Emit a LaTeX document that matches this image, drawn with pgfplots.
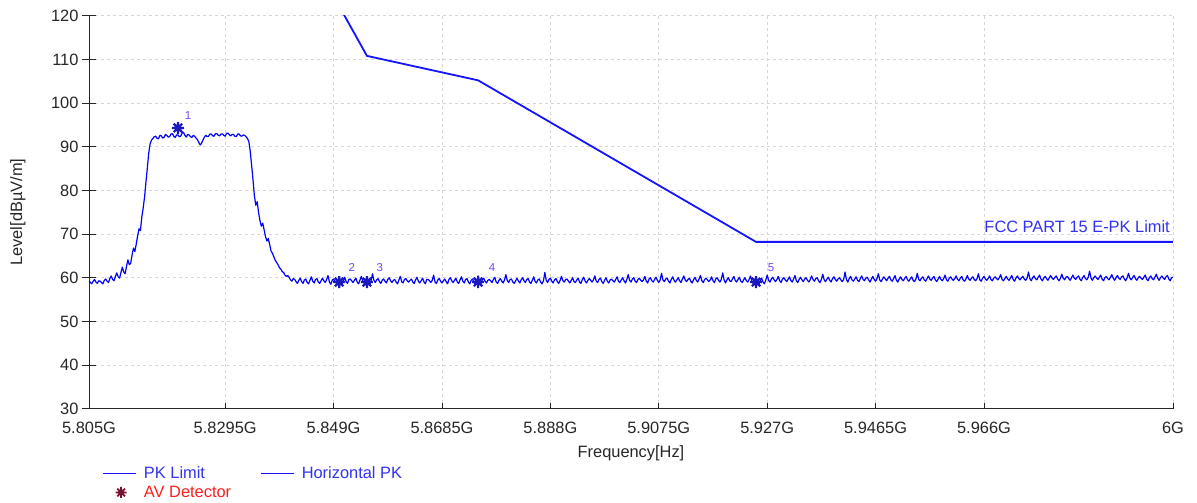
\documentclass[border=0pt]{standalone}
\usepackage{pgfplots}
\pgfplotsset{compat=1.18}
\usepackage{fontspec}
\setmainfont{Liberation Sans}
\definecolor{tr}{RGB}{0,0,255}
\definecolor{lim}{RGB}{20,20,255}
\definecolor{mk}{RGB}{25,25,190}
\definecolor{avred}{RGB}{120,20,50}
\definecolor{lblue}{RGB}{50,50,240}
\definecolor{lred}{RGB}{255,30,30}
\definecolor{mlab}{RGB}{120,70,255}
\definecolor{gridc}{RGB}{215,215,215}
\newcommand\fs{\fontsize{16.4bp}{19bp}\selectfont}
\pgfdeclareplotmark{burst}{%
  \pgfpathmoveto{\pgfqpoint{-\pgfplotmarksize}{0pt}}\pgfpathlineto{\pgfqpoint{\pgfplotmarksize}{0pt}}%
  \pgfpathmoveto{\pgfqpoint{0pt}{-\pgfplotmarksize}}\pgfpathlineto{\pgfqpoint{0pt}{\pgfplotmarksize}}%
  \pgfpathmoveto{\pgfqpointpolar{45}{\pgfplotmarksize}}\pgfpathlineto{\pgfqpointpolar{225}{\pgfplotmarksize}}%
  \pgfpathmoveto{\pgfqpointpolar{135}{\pgfplotmarksize}}\pgfpathlineto{\pgfqpointpolar{315}{\pgfplotmarksize}}%
  \pgfusepathqstroke
  \pgfpathcircle{\pgfpointorigin}{0.4\pgfplotmarksize}\pgfusepathqfillstroke}
\pgfplotsset{
  linelegend/.style={legend image code/.code={\draw[##1] (0bp,0bp) -- (33bp,0bp);}},
  marklegend/.style={legend image code/.code={\path (0bp,0bp) (33bp,0bp); \draw[##1] plot coordinates {(18bp,0bp)};}},
}
\begin{document}
\begin{tikzpicture}
\begin{axis}[
  at={(0,0)}, anchor=south west,
  scale only axis, width=1084bp, height=393bp,
  xmin=5805, xmax=6000, ymin=30, ymax=120,
  axis x line*=bottom, axis y line*=left,
  axis line style={black!85, line width=0.9bp},
  xtick={5805,5829.5,5849,5868.5,5888,5907.5,5927,5946.5,5966,6000},
  xticklabels={5.805G,5.8295G,5.849G,5.8685G,5.888G,5.9075G,5.927G,5.9465G,5.966G,6G},
  ytick={30,40,...,120},
  xtick align=inside, ytick align=center,
  major tick length=14bp,
  xtick style={/pgfplots/major tick length=6bp},
  tick style={black!85, line width=0.9bp},
  tick label style={font=\fs, text=black!85},
  xticklabel style={yshift=-10bp},
  /pgf/number format/assume math mode=true,
  grid=major,
  major grid style={gridc, dash pattern=on 3bp off 3bp, line width=0.8bp},
  xlabel={Frequency[Hz]},
  xlabel style={at={(axis description cs:0.5,-0.1135)}, anchor=center, font=\fs, text=black!85},
  ylabel={Level[dBµV/m]},
  ylabel style={at={(axis description cs:-0.0655,0.5)}, anchor=center, font=\fs, text=black!85},
  legend columns=2,
  legend style={at={(axis description cs:0.012,-0.142)}, anchor=north west, draw=none, fill=none,
    font=\fs, inner sep=0pt, row sep=2bp,
    /tikz/every odd column/.append style={column sep=5bp},
    /tikz/every even column/.append style={column sep=27bp}},
  legend cell align=left,
]
\addplot[tr, line width=1.2bp, line join=round, forget plot] coordinates {
(5805,59.3)(5805.25,58.9)(5805.5,58.6)(5805.75,59.2)(5806,59.6)(5806.25,59.0)(5806.5,58.7)(5806.75,59.3)
(5807,59.2)(5807.25,58.9)(5807.5,58.6)(5807.75,59.4)(5808,59.7)(5808.25,59.2)(5808.5,58.9)(5808.75,59.8)
(5809,60.4)(5809.25,59.6)(5809.5,59.3)(5809.75,60.3)(5810,61.1)(5810.25,60.2)(5810.5,59.9)(5810.75,61.2)
(5811,62.4)(5811.25,61.3)(5811.5,60.9)(5811.75,62.6)(5812,64.1)(5812.25,63.0)(5812.5,63.3)(5812.75,65.2)
(5813,66.8)(5813.25,66.0)(5813.5,67.7)(5813.75,69.6)(5814,71.2)(5814.25,70.8)(5814.5,73.9)(5814.75,76.0)
(5815,78.5)(5815.25,82.0)(5815.5,85.2)(5815.75,88.6)(5816,90.7)(5816.25,91.5)(5816.5,91.9)(5816.75,92.3)
(5817,92.4)(5817.25,91.9)(5817.5,91.8)(5817.75,92.6)(5818,92.5)(5818.25,92.0)(5818.5,92.1)(5818.75,92.8)
(5819,92.6)(5819.25,92.2)(5819.5,92.3)(5819.75,92.9)(5820,93.0)(5820.25,92.4)(5820.5,92.1)(5820.75,92.7)
(5821,92.7)(5821.25,92.3)(5821.5,92.4)(5821.75,93.1)(5822,93.3)(5822.25,92.6)(5822.5,92.2)(5822.75,92.8)
(5823,92.7)(5823.25,92.3)(5823.5,92.1)(5823.75,92.6)(5824,92.4)(5824.25,92.0)(5824.5,91.6)(5824.75,91.0)
(5825,90.4)(5825.25,90.8)(5825.5,91.5)(5825.75,92.2)(5826,92.6)(5826.25,92.3)(5826.5,92.4)(5826.75,92.9)
(5827,92.9)(5827.25,92.5)(5827.5,92.4)(5827.75,93.0)(5828,93.0)(5828.25,92.6)(5828.5,92.5)(5828.75,92.9)
(5829,92.9)(5829.25,92.6)(5829.5,92.4)(5829.75,93.1)(5830,93.1)(5830.25,92.7)(5830.5,92.5)(5830.75,92.8)
(5831,92.8)(5831.25,92.4)(5831.5,92.3)(5831.75,92.9)(5832,92.9)(5832.25,92.5)(5832.5,92.4)(5832.75,92.7)
(5833,92.6)(5833.25,92.3)(5833.5,91.9)(5833.75,91.2)(5834,89.0)(5834.25,85.8)(5834.5,82.5)(5834.75,78.8)
(5835,76.6)(5835.25,77.4)(5835.5,75.0)(5835.75,73.1)(5836,71.8)(5836.25,72.5)(5836.5,71.0)(5836.75,69.4)
(5837,68.4)(5837.25,69.0)(5837.5,67.6)(5837.75,66.1)(5838,65.6)(5838.25,64.8)(5838.5,64.0)(5838.75,63.5)
(5839,63.0)(5839.25,62.3)(5839.5,62.0)(5839.75,61.4)(5840,61.2)(5840.25,60.6)(5840.5,60.3)(5840.75,60.5)
(5841,60.1)(5841.25,59.5)(5841.5,59.2)(5841.75,59.8)(5842,59.6)(5842.25,59.1)(5842.5,58.7)(5842.75,59.4)
(5843,59.9)(5843.25,59.1)(5843.5,58.7)(5843.75,59.5)(5844,59.7)(5844.25,58.9)(5844.5,58.6)(5844.75,59.4)
(5845,60.2)(5845.25,59.2)(5845.5,58.8)(5845.75,59.6)(5846,59.8)(5846.25,59.0)(5846.5,58.7)(5846.75,59.3)
(5847,59.9)(5847.25,59.3)(5847.5,58.9)(5847.75,59.6)(5848,60.5)(5848.25,59.0)(5848.5,58.5)(5848.75,59.4)
(5849,59.7)(5849.25,59.2)(5849.5,58.8)(5849.75,59.5)(5850,59.8)(5850.25,58.8)(5850.5,58.4)(5850.75,59.2)
(5851,60.1)(5851.25,59.1)(5851.5,58.7)(5851.75,59.6)(5852,59.7)(5852.25,59.3)(5852.5,58.9)(5852.75,59.4)
(5853,59.9)(5853.25,59.0)(5853.5,58.6)(5853.75,59.5)(5854,60.3)(5854.25,59.2)(5854.5,58.8)(5854.75,59.7)
(5855,59.6)(5855.25,58.9)(5855.5,58.5)(5855.75,59.3)(5856,60.9)(5856.25,59.4)(5856.5,58.9)(5856.75,59.5)
(5857,59.8)(5857.25,59.1)(5857.5,58.7)(5857.75,59.4)(5858,59.7)(5858.25,59.2)(5858.5,58.8)(5858.75,59.6)
(5859,60.0)(5859.25,59.3)(5859.5,58.9)(5859.75,59.4)(5860,59.6)(5860.25,59.0)(5860.5,58.6)(5860.75,59.5)
(5861,60.3)(5861.25,59.1)(5861.5,58.8)(5861.75,59.6)(5862,59.8)(5862.25,59.3)(5862.5,59.0)(5862.75,59.4)
(5863,59.7)(5863.25,59.0)(5863.5,58.7)(5863.75,59.5)(5864,60.1)(5864.25,59.2)(5864.5,58.8)(5864.75,59.3)
(5865,59.9)(5865.25,59.1)(5865.5,58.6)(5865.75,59.6)(5866,59.6)(5866.25,59.3)(5866.5,58.9)(5866.75,59.4)
(5867,60.6)(5867.25,59.0)(5867.5,58.7)(5867.75,59.5)(5868,59.8)(5868.25,59.2)(5868.5,58.8)(5868.75,59.3)
(5869,59.7)(5869.25,59.1)(5869.5,58.6)(5869.75,59.6)(5870,60.0)(5870.25,59.3)(5870.5,58.9)(5870.75,59.4)
(5871,59.9)(5871.25,59.0)(5871.5,58.7)(5871.75,59.5)(5872,60.2)(5872.25,59.2)(5872.5,58.8)(5872.75,59.6)
(5873,59.8)(5873.25,59.0)(5873.5,58.6)(5873.75,59.4)(5874,59.7)(5874.25,58.9)(5874.5,58.5)(5874.75,59.3)
(5875,60.4)(5875.25,59.1)(5875.5,58.6)(5875.75,59.5)(5876,59.9)(5876.25,59.2)(5876.5,58.8)(5876.75,59.4)
(5877,59.6)(5877.25,59.3)(5877.5,58.9)(5877.75,59.6)(5878,60.1)(5878.25,59.0)(5878.5,58.7)(5878.75,59.4)
(5879,59.8)(5879.25,59.2)(5879.5,58.8)(5879.75,59.5)(5880,60.7)(5880.25,59.3)(5880.5,58.9)(5880.75,59.6)
(5881,59.7)(5881.25,59.0)(5881.5,58.7)(5881.75,59.3)(5882,59.9)(5882.25,59.2)(5882.5,58.8)(5882.75,59.5)
(5883,60.0)(5883.25,59.3)(5883.5,58.9)(5883.75,59.6)(5884,59.8)(5884.25,59.0)(5884.5,58.7)(5884.75,59.4)
(5885,60.2)(5885.25,59.1)(5885.5,58.8)(5885.75,59.5)(5886,59.7)(5886.25,59.0)(5886.5,58.6)(5886.75,59.3)
(5887,61.2)(5887.25,59.4)(5887.5,58.9)(5887.75,59.6)(5888,59.9)(5888.25,59.2)(5888.5,58.8)(5888.75,59.5)
(5889,59.8)(5889.25,59.1)(5889.5,58.7)(5889.75,59.4)(5890,60.3)(5890.25,59.3)(5890.5,59.0)(5890.75,59.6)
(5891,59.7)(5891.25,59.2)(5891.5,58.8)(5891.75,59.4)(5892,60.0)(5892.25,59.1)(5892.5,58.9)(5892.75,59.5)
(5893,59.9)(5893.25,59.0)(5893.5,58.7)(5893.75,59.6)(5894,60.1)(5894.25,59.2)(5894.5,58.8)(5894.75,59.4)
(5895,59.8)(5895.25,59.4)(5895.5,59.0)(5895.75,59.5)(5896,60.4)(5896.25,59.2)(5896.5,58.9)(5896.75,59.6)
(5897,59.9)(5897.25,59.1)(5897.5,58.7)(5897.75,59.4)(5898,60.0)(5898.25,59.2)(5898.5,58.8)(5898.75,59.5)
(5899,59.7)(5899.25,59.3)(5899.5,59.0)(5899.75,59.6)(5900,60.2)(5900.25,59.2)(5900.5,58.9)(5900.75,59.5)
(5901,60.0)(5901.25,59.3)(5901.5,58.8)(5901.75,59.6)(5902,60.7)(5902.25,59.4)(5902.5,59.0)(5902.75,59.7)
(5903,60.0)(5903.25,59.2)(5903.5,58.9)(5903.75,59.6)(5904,59.9)(5904.25,59.4)(5904.5,59.1)(5904.75,59.5)
(5905,60.3)(5905.25,59.2)(5905.5,58.8)(5905.75,59.7)(5906,60.0)(5906.25,59.3)(5906.5,59.0)(5906.75,59.6)
(5907,60.1)(5907.25,59.4)(5907.5,58.9)(5907.75,59.5)(5908,61.0)(5908.25,59.5)(5908.5,59.1)(5908.75,59.7)
(5909,59.9)(5909.25,59.2)(5909.5,58.8)(5909.75,59.6)(5910,60.2)(5910.25,59.4)(5910.5,59.0)(5910.75,59.5)
(5911,60.0)(5911.25,59.3)(5911.5,58.9)(5911.75,59.7)(5912,60.4)(5912.25,59.5)(5912.5,59.1)(5912.75,59.6)
(5913,59.9)(5913.25,59.2)(5913.5,58.8)(5913.75,59.5)(5914,60.1)(5914.25,59.4)(5914.5,59.0)(5914.75,59.7)
(5915,60.5)(5915.25,59.3)(5915.5,58.9)(5915.75,59.6)(5916,59.9)(5916.25,59.5)(5916.5,59.1)(5916.75,59.5)
(5917,60.2)(5917.25,59.3)(5917.5,58.9)(5917.75,59.7)(5918,60.0)(5918.25,59.4)(5918.5,59.0)(5918.75,59.6)
(5919,61.1)(5919.25,59.5)(5919.5,58.8)(5919.75,59.5)(5920,60.0)(5920.25,59.3)(5920.5,59.1)(5920.75,59.7)
(5921,60.3)(5921.25,59.4)(5921.5,59.0)(5921.75,59.6)(5922,60.1)(5922.25,59.2)(5922.5,58.9)(5922.75,59.5)
(5923,60.0)(5923.25,59.3)(5923.5,59.0)(5923.75,59.6)(5924,60.4)(5924.25,59.1)(5924.5,58.7)(5924.75,59.4)
(5925,60.1)(5925.25,58.9)(5925.5,58.4)(5925.75,59.3)(5926,59.9)(5926.25,59.0)(5926.5,58.6)(5926.75,59.5)
(5927,60.6)(5927.25,59.4)(5927.5,59.0)(5927.75,59.7)(5928,60.1)(5928.25,59.5)(5928.5,59.1)(5928.75,59.6)
(5929,60.3)(5929.25,59.3)(5929.5,58.9)(5929.75,59.7)(5930,60.0)(5930.25,59.5)(5930.5,59.1)(5930.75,59.6)
(5931,60.2)(5931.25,59.4)(5931.5,59.0)(5931.75,59.7)(5932,60.5)(5932.25,59.3)(5932.5,58.9)(5932.75,59.6)
(5933,60.1)(5933.25,59.5)(5933.5,59.1)(5933.75,59.7)(5934,60.0)(5934.25,59.4)(5934.5,59.0)(5934.75,59.6)
(5935,60.4)(5935.25,59.6)(5935.5,59.2)(5935.75,59.8)(5936,60.0)(5936.25,59.3)(5936.5,58.9)(5936.75,59.6)
(5937,60.8)(5937.25,59.5)(5937.5,59.1)(5937.75,59.7)(5938,60.1)(5938.25,59.4)(5938.5,59.0)(5938.75,59.8)
(5939,60.2)(5939.25,59.6)(5939.5,59.2)(5939.75,59.7)(5940,60.0)(5940.25,59.5)(5940.5,59.1)(5940.75,59.6)
(5941,61.3)(5941.25,59.6)(5941.5,59.0)(5941.75,59.8)(5942,60.3)(5942.25,59.5)(5942.5,59.2)(5942.75,59.7)
(5943,60.2)(5943.25,59.4)(5943.5,59.1)(5943.75,59.8)(5944,60.4)(5944.25,59.6)(5944.5,59.3)(5944.75,59.9)
(5945,60.1)(5945.25,59.5)(5945.5,59.0)(5945.75,59.7)(5946,60.3)(5946.25,59.6)(5946.5,59.2)(5946.75,59.8)
(5947,60.9)(5947.25,59.5)(5947.5,59.1)(5947.75,59.7)(5948,60.2)(5948.25,59.7)(5948.5,59.3)(5948.75,59.9)
(5949,60.3)(5949.25,59.5)(5949.5,59.2)(5949.75,59.8)(5950,60.5)(5950.25,59.4)(5950.5,59.0)(5950.75,59.7)
(5951,60.2)(5951.25,59.6)(5951.5,59.3)(5951.75,59.9)(5952,60.3)(5952.25,59.5)(5952.5,59.2)(5952.75,59.8)
(5953,60.2)(5953.25,59.4)(5953.5,59.1)(5953.75,59.7)(5954,61.0)(5954.25,59.6)(5954.5,59.3)(5954.75,59.9)
(5955,60.2)(5955.25,59.5)(5955.5,59.2)(5955.75,59.8)(5956,60.4)(5956.25,59.7)(5956.5,59.4)(5956.75,59.9)
(5957,60.3)(5957.25,59.5)(5957.5,59.1)(5957.75,59.7)(5958,60.3)(5958.25,59.6)(5958.5,59.3)(5958.75,59.8)
(5959,60.6)(5959.25,59.5)(5959.5,59.2)(5959.75,59.9)(5960,60.2)(5960.25,59.7)(5960.5,59.4)(5960.75,59.8)
(5961,60.4)(5961.25,59.6)(5961.5,59.3)(5961.75,59.9)(5962,60.3)(5962.25,59.5)(5962.5,59.2)(5962.75,59.7)
(5963,60.5)(5963.25,59.7)(5963.5,59.4)(5963.75,59.9)(5964,60.2)(5964.25,59.6)(5964.5,59.3)(5964.75,59.8)
(5965,60.9)(5965.25,59.5)(5965.5,59.2)(5965.75,59.9)(5966,60.3)(5966.25,59.7)(5966.5,59.4)(5966.75,59.8)
(5967,60.4)(5967.25,59.6)(5967.5,59.3)(5967.75,59.9)(5968,60.2)(5968.25,59.8)(5968.5,59.5)(5968.75,60.0)
(5969,60.7)(5969.25,59.6)(5969.5,59.3)(5969.75,59.8)(5970,60.3)(5970.25,59.7)(5970.5,59.4)(5970.75,59.9)
(5971,60.5)(5971.25,59.6)(5971.5,59.2)(5971.75,59.9)(5972,60.4)(5972.25,59.8)(5972.5,59.5)(5972.75,60.0)
(5973,60.3)(5973.25,59.7)(5973.5,59.4)(5973.75,59.9)(5974,61.3)(5974.25,59.8)(5974.5,59.3)(5974.75,60.0)
(5975,60.4)(5975.25,59.8)(5975.5,59.5)(5975.75,60.1)(5976,60.6)(5976.25,59.7)(5976.5,59.3)(5976.75,59.9)
(5977,60.3)(5977.25,59.8)(5977.5,59.4)(5977.75,60.0)(5978,60.5)(5978.25,59.9)(5978.5,59.6)(5978.75,60.1)
(5979,60.4)(5979.25,59.7)(5979.5,59.3)(5979.75,59.9)(5980,60.8)(5980.25,59.9)(5980.5,59.5)(5980.75,60.1)
(5981,60.3)(5981.25,59.8)(5981.5,59.4)(5981.75,60.0)(5982,60.6)(5982.25,59.9)(5982.5,59.6)(5982.75,60.1)
(5983,60.4)(5983.25,59.7)(5983.5,59.3)(5983.75,60.0)(5984,60.5)(5984.25,59.8)(5984.5,59.5)(5984.75,60.1)
(5985,61.5)(5985.25,59.9)(5985.5,59.4)(5985.75,60.0)(5986,60.4)(5986.25,59.9)(5986.5,59.6)(5986.75,60.1)
(5987,60.6)(5987.25,59.7)(5987.5,59.3)(5987.75,60.0)(5988,60.3)(5988.25,59.8)(5988.5,59.5)(5988.75,60.1)
(5989,60.7)(5989.25,59.9)(5989.5,59.4)(5989.75,60.0)(5990,60.5)(5990.25,59.9)(5990.5,59.6)(5990.75,60.2)
(5991,60.4)(5991.25,59.7)(5991.5,59.3)(5991.75,60.0)(5992,61.0)(5992.25,59.9)(5992.5,59.5)(5992.75,60.1)
(5993,60.5)(5993.25,59.8)(5993.5,59.4)(5993.75,60.0)(5994,60.3)(5994.25,59.9)(5994.5,59.6)(5994.75,60.1)
(5995,60.6)(5995.25,59.7)(5995.5,59.3)(5995.75,60.0)(5996,60.4)(5996.25,59.8)(5996.5,59.5)(5996.75,60.1)
(5997,60.8)(5997.25,59.9)(5997.5,59.4)(5997.75,60.0)(5998,60.4)(5998.25,59.9)(5998.5,59.6)(5998.75,60.2)
(5999,60.5)(5999.25,59.7)(5999.5,59.3)(5999.75,60.0)(6000,60.1)
};
\addplot[lim, line width=1.8bp, forget plot] coordinates {(5850,122.2)(5855,110.8)(5875,105.2)(5925,68.2)(6000,68.2)};
\addplot[only marks, mark=burst, mark size=6bp, mk, line width=2.2bp, forget plot] coordinates {(5821,94.3)(5850,59.0)(5855,59.0)(5875,59.0)(5925,59.0)};
\node[anchor=base east, inner sep=0pt, text=lblue, font=\fs, xshift=-3bp] at (axis cs:6000,70.3) {FCC PART 15 E-PK Limit};
\node[inner sep=0pt, text=mlab, font=\fontsize{11.5bp}{13bp}\selectfont] at (axis cs:5822.8,97.1) {1};
\node[inner sep=0pt, text=mlab, font=\fontsize{11.5bp}{13bp}\selectfont] at (axis cs:5852.3,62.3) {2};
\node[inner sep=0pt, text=mlab, font=\fontsize{11.5bp}{13bp}\selectfont] at (axis cs:5857.3,62.3) {3};
\node[inner sep=0pt, text=mlab, font=\fontsize{11.5bp}{13bp}\selectfont] at (axis cs:5877.5,62.3) {4};
\node[inner sep=0pt, text=mlab, font=\fontsize{11.5bp}{13bp}\selectfont] at (axis cs:5927.7,62.3) {5};
\addlegendimage{lim, line width=1.6bp, linelegend}
\addlegendentry{\textcolor{lblue}{PK Limit}}
\addlegendimage{lim, line width=1.6bp, linelegend}
\addlegendentry{\textcolor{lblue}{Horizontal PK}}
\addlegendimage{avred, line width=1.8bp, mark=burst, mark size=5.5bp, marklegend}
\addlegendentry{\textcolor{lred}{AV Detector}}
\end{axis}
\pgfresetboundingbox
\path[use as bounding box] (-89bp,-94.3bp) rectangle (1108bp,408.7bp);
\end{tikzpicture}
\end{document}
